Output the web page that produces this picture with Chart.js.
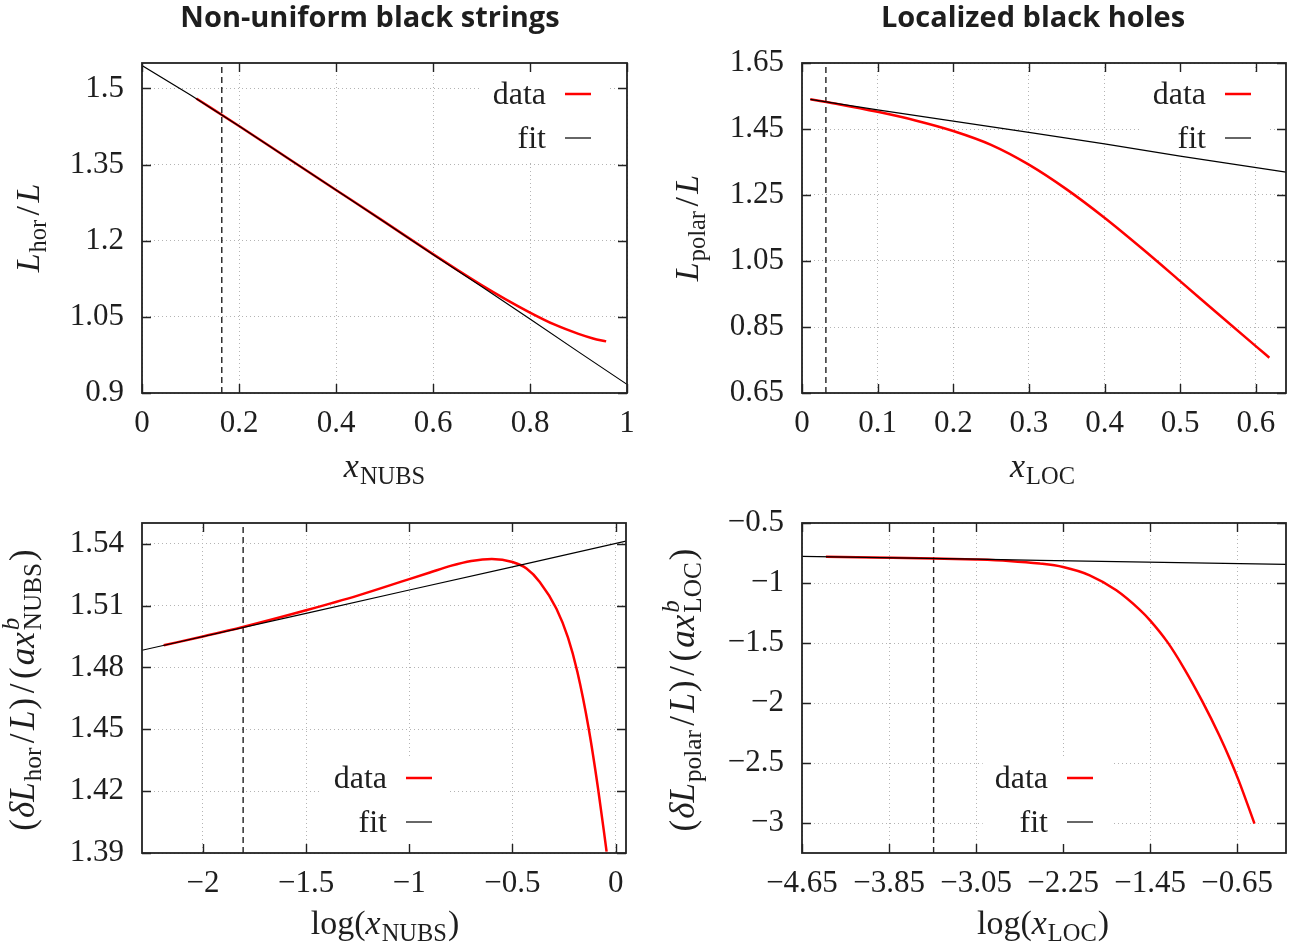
<!DOCTYPE html>
<html>
<head>
<meta charset="utf-8">
<script src="https://cdn.jsdelivr.net/npm/chart.js@4.4.1/dist/chart.umd.min.js"></script>
<style>
html,body{margin:0;padding:0;background:#fff;}
#wrap{position:relative;width:1302px;height:949px;overflow:hidden;}
#wrap canvas{position:absolute;left:0;top:0;}
</style>
</head>
<body>
<div id="wrap">
<canvas id="c1" width="1302" height="949"></canvas>
<canvas id="c2" width="1302" height="949"></canvas>
<canvas id="c3" width="1302" height="949"></canvas>
<canvas id="c4" width="1302" height="949"></canvas>
</div>
<script>
// ---------- Data ----------
// Panel 1: Non-uniform black strings, L_hor/L vs x_NUBS
const nubsFitX  = [0, 0.1, 0.2, 0.3, 0.4, 0.5, 0.6, 0.7, 0.8, 0.9, 1.0];
const nubsFitY  = [1.545, 1.487, 1.426, 1.363, 1.300, 1.237, 1.173, 1.110, 1.046, 0.981, 0.917];
const nubsDataX = [0.112, 0.2, 0.3, 0.4, 0.5, 0.6, 0.65, 0.7, 0.75, 0.8, 0.85, 0.9, 0.93, 0.957];
const nubsDataY = [1.480, 1.426, 1.363, 1.300, 1.237, 1.1735, 1.1425, 1.1125, 1.0845, 1.0585, 1.035, 1.0165, 1.0075, 1.0017];
const nubsCut = 0.1645;
const nubsXTicks = [0, 0.2, 0.4, 0.6, 0.8, 1];
const nubsYTicks = [0.9, 1.05, 1.2, 1.35, 1.5];

// Panel 2: Localized black holes, L_polar/L vs x_LOC
const locFitX  = [0.011, 0.1, 0.2, 0.3, 0.4, 0.5, 0.64];
const locFitY  = [1.540, 1.508, 1.474, 1.440, 1.405, 1.368, 1.319];
const locDataX = [0.011, 0.05, 0.1, 0.15, 0.2, 0.25, 0.3, 0.35, 0.4, 0.45, 0.5, 0.55, 0.6, 0.618];
const locDataY = [1.540, 1.5245, 1.502, 1.476, 1.444, 1.402, 1.342, 1.267, 1.181, 1.087, 0.989, 0.890, 0.792, 0.757];
const locCut = 0.0316;
const locXTicks = [0, 0.1, 0.2, 0.3, 0.4, 0.5, 0.6];
const locYTicks = [0.65, 0.85, 1.05, 1.25, 1.45, 1.65];

// Panel 3: (dL_hor/L)/(a x^b) vs log(x_NUBS)
const nubsLogFitX  = [-2.295, -1.5, -1.0, -0.5, 0.05];
const nubsLogFitY  = [1.4883, 1.5062, 1.5175, 1.5287, 1.5412];
const nubsLogDataX = [-2.19, -2.0, -1.806, -1.5, -1.25, -1.0, -0.9, -0.8, -0.7, -0.6, -0.5, -0.432, -0.368, -0.287, -0.231, -0.186, -0.131, -0.085, -0.044];
const nubsLogDataY = [1.4907, 1.4950, 1.4996, 1.5077, 1.5148, 1.5228, 1.5260, 1.5292, 1.5316, 1.5326, 1.5311, 1.5279, 1.5214, 1.5084, 1.4944, 1.4780, 1.4505, 1.4210, 1.3907];
const nubsLogCut = -1.805;
const nubsLogXTicks = [-2, -1.5, -1, -0.5, 0];
const nubsLogYTicks = [1.39, 1.42, 1.45, 1.48, 1.51, 1.54];

// Panel 4: (dL_polar/L)/(a x^b) vs log(x_LOC)
const locLogFitX  = [-4.65, -3.05, -2.464, -0.2];
const locLogFitY  = [-0.778, -0.801, -0.811, -0.844];
const locLogDataX = [-4.43, -4.0, -3.44, -3.05, -2.75, -2.464, -2.25, -2.005, -1.76, -1.546, -1.45, -1.288, -1.135, -0.973, -0.814, -0.707, -0.631, -0.49];
const locLogDataY = [-0.781, -0.787, -0.795, -0.804, -0.816, -0.838, -0.867, -0.936, -1.061, -1.222, -1.311, -1.495, -1.715, -1.980, -2.268, -2.485, -2.655, -3.005];
const locLogCut = -3.44;
const locLogXTicks = [-4.65, -3.85, -3.05, -2.25, -1.45, -0.65];
const locLogYTicks = [-3, -2.5, -2, -1.5, -1, -0.5];

const seriesNames = ['data', 'fit'];
const titles = ['Non-uniform black strings', 'Localized black holes'];

// ---------- Helpers ----------
const W = 1302, H = 949;
const SERIF = '"Liberation Serif", "DejaVu Serif", serif';
const TXT = '#1e1e1e';
const FS = 31;      // tick labels
const LFS = 32;     // legend
const MFS = 34;     // axis titles

function zip(xs, ys) { return xs.map((x, i) => ({x: x, y: ys[i]})); }
function fmt(v) { return String(v).replace('-', '\u2212'); }
function fontFor(it, s) { return (it ? 'italic ' : '') + s + 'px ' + SERIF; }

function drawMath(ctx, segs, x, y, size, rotate) {
  ctx.save();
  ctx.translate(x, y);
  if (rotate) ctx.rotate(-Math.PI / 2);
  const parts = [];
  let total = 0;
  const ss = 0.72;
  for (const s of segs) {
    let w = 0;
    const pad = (s.pad || 0) * size;
    if (s.t !== undefined) {
      ctx.font = fontFor(s.it, size);
      w = ctx.measureText(s.t).width;
    } else {
      let ws = 0, wp = 0;
      if (s.sub) { ctx.font = fontFor(false, size * ss); ws = ctx.measureText(s.sub).width; }
      if (s.sup) { ctx.font = fontFor(true, size * ss); wp = ctx.measureText(s.sup).width; }
      w = Math.max(ws, wp) + 2;
    }
    parts.push({s: s, w: w, pad: pad});
    total += w + 2 * pad;
  }
  let cx = -total / 2;
  ctx.fillStyle = TXT;
  ctx.textAlign = 'left';
  ctx.textBaseline = 'alphabetic';
  for (const p of parts) {
    const s = p.s;
    cx += p.pad;
    if (s.t !== undefined) {
      ctx.font = fontFor(s.it, size);
      ctx.fillText(s.t, cx, 0);
    } else {
      if (s.sub) { ctx.font = fontFor(false, size * ss); ctx.fillText(s.sub, cx + 1, size * 0.2); }
      if (s.sup) { ctx.font = fontFor(true, size * ss); ctx.fillText(s.sup, cx + 1, -size * 0.42); }
    }
    cx += p.w + p.pad;
  }
  ctx.restore();
}

function decor(cfg) {
  return {
    id: 'decor_' + cfg.id,
    beforeDatasetsDraw(chart) {
      const ctx = chart.ctx, lg = cfg.legend;
      ctx.save();
      ctx.font = LFS + 'px ' + SERIF;
      const tw = Math.max(ctx.measureText(seriesNames[0]).width, ctx.measureText(seriesNames[1]).width);
      const textRight = lg.sampleRight - lg.sampleLen - lg.gap;
      ctx.fillStyle = '#ffffff';
      ctx.fillRect(textRight - tw - 12, lg.y1 - 22, tw + 12 + lg.gap + lg.sampleLen + 18, lg.y2 - lg.y1 + 44);
      ctx.restore();
    },
    afterDatasetsDraw(chart) {
      const ctx = chart.ctx, a = chart.chartArea, xs = chart.scales.x, ys = chart.scales.y, lg = cfg.legend;
      ctx.save();
      const textRight = lg.sampleRight - lg.sampleLen - lg.gap;
      const rows = [{name: seriesNames[0], ds: chart.data.datasets[1], y: lg.y1}, {name: seriesNames[1], ds: chart.data.datasets[0], y: lg.y2}];
      ctx.font = LFS + 'px ' + SERIF;
      ctx.textAlign = 'right';
      ctx.textBaseline = 'alphabetic';
      for (const r of rows) {
        ctx.fillStyle = TXT;
        ctx.fillText(r.name, textRight, r.y + 10);
        ctx.strokeStyle = r.ds.borderColor;
        ctx.lineWidth = r.ds.borderWidth;
        ctx.beginPath();
        ctx.moveTo(lg.sampleRight - lg.sampleLen, r.y);
        ctx.lineTo(lg.sampleRight, r.y);
        ctx.stroke();
      }
      // inward ticks on all four sides
      ctx.strokeStyle = '#222';
      ctx.lineWidth = 1.4;
      ctx.beginPath();
      for (const v of cfg.xTicks) {
        const px = Math.round(xs.getPixelForValue(v)) + 0.5;
        ctx.moveTo(px, a.bottom); ctx.lineTo(px, a.bottom - 9);
        ctx.moveTo(px, a.top); ctx.lineTo(px, a.top + 9);
      }
      for (const v of cfg.yTicks) {
        const py = Math.round(ys.getPixelForValue(v)) + 0.5;
        ctx.moveTo(a.left, py); ctx.lineTo(a.left + 9, py);
        ctx.moveTo(a.right, py); ctx.lineTo(a.right - 9, py);
      }
      ctx.stroke();
      // frame
      ctx.lineWidth = 1.8;
      ctx.strokeRect(a.left, a.top, a.right - a.left, a.bottom - a.top);
      ctx.restore();
    },
    afterDraw(chart) {
      const ctx = chart.ctx;
      ctx.save();
      if (cfg.title) {
        ctx.font = 'bold 29px "Open Sans", "Liberation Sans", sans-serif';
        ctx.fillStyle = TXT;
        ctx.textAlign = 'center';
        ctx.textBaseline = 'alphabetic';
        ctx.fillText(cfg.title.text, cfg.title.x, cfg.title.y);
      }
      drawMath(ctx, cfg.xLabel.segs, cfg.xLabel.x, cfg.xLabel.y, MFS, false);
      drawMath(ctx, cfg.yLabel.segs, cfg.yLabel.x, cfg.yLabel.y, cfg.yLabel.size || MFS, true);
      ctx.restore();
    }
  };
}

function makeChart(cfg) {
  const tickFont = {family: SERIF, size: FS, lineHeight: 1};
  return new Chart(document.getElementById(cfg.id), {
    type: 'line',
    data: {
      datasets: [
        {label: seriesNames[1], data: zip(cfg.fitX, cfg.fitY), borderColor: '#000000', borderWidth: 1.2,
         pointRadius: 0, order: 0, tension: 0, fill: false},
        {label: seriesNames[0], data: zip(cfg.dataX, cfg.dataY), borderColor: '#ff0000', borderWidth: 2.5,
         pointRadius: 0, order: 1, cubicInterpolationMode: 'monotone', fill: false},
        {label: 'cut', data: [{x: cfg.cut, y: cfg.yMin}, {x: cfg.cut, y: cfg.yMax}], borderColor: '#222222',
         borderWidth: 1.4, borderDash: [6, 4], pointRadius: 0, order: 2, fill: false}
      ]
    },
    options: {
      responsive: false,
      animation: false,
      devicePixelRatio: 1,
      events: [],
      layout: {padding: {left: cfg.padL, top: cfg.T, right: W - cfg.R, bottom: H - cfg.B - 60}},
      plugins: {legend: {display: false}, tooltip: {enabled: false}, title: {display: false}},
      scales: {
        x: {
          type: 'linear', min: cfg.xMin, max: cfg.xMax,
          afterBuildTicks: (s) => { s.ticks = cfg.xTicks.map(v => ({value: v})); },
          afterFit: (s) => { s.height = 60; },
          grid: {color: '#b4b4b4', lineWidth: 1, drawTicks: false},
          border: {display: false, dash: [1, 3]},
          ticks: {padding: 15, font: tickFont, color: TXT, maxRotation: 0, autoSkip: false, callback: (v) => fmt(v)}
        },
        y: {
          type: 'linear', min: cfg.yMin, max: cfg.yMax,
          afterBuildTicks: (s) => { s.ticks = cfg.yTicks.map(v => ({value: v})); },
          afterFit: (s) => { s.width = cfg.L - cfg.padL; },
          grid: {color: '#b4b4b4', lineWidth: 1, drawTicks: false},
          border: {display: false, dash: [1, 3]},
          ticks: {padding: 18, font: tickFont, color: TXT, autoSkip: false, callback: (v) => fmt(v)}
        }
      }
    },
    plugins: [decor(cfg)]
  });
}

const sub = (t) => ({sub: t});
const SL = {t: '/', pad: 0.1};

makeChart({
  id: 'c1', padL: 0, L: 142, R: 627, T: 63, B: 393,
  xMin: 0, xMax: 1, yMin: 0.9, yMax: 1.55,
  xTicks: nubsXTicks, yTicks: nubsYTicks,
  fitX: nubsFitX, fitY: nubsFitY, dataX: nubsDataX, dataY: nubsDataY, cut: nubsCut,
  legend: {sampleRight: 591, sampleLen: 26, gap: 19, y1: 94, y2: 138},
  title: {text: titles[0], x: 370, y: 27},
  xLabel: {segs: [{t: 'x', it: true}, sub('NUBS')], x: 385, y: 477},
  yLabel: {segs: [{t: 'L', it: true}, sub('hor'), SL, {t: 'L', it: true}], x: 39, y: 228}
});

makeChart({
  id: 'c2', padL: 651, L: 802, R: 1286, T: 63, B: 393,
  xMin: 0, xMax: 0.64, yMin: 0.65, yMax: 1.65,
  xTicks: locXTicks, yTicks: locYTicks,
  fitX: locFitX, fitY: locFitY, dataX: locDataX, dataY: locDataY, cut: locCut,
  legend: {sampleRight: 1251, sampleLen: 26, gap: 19, y1: 94, y2: 138},
  title: {text: titles[1], x: 1033, y: 27},
  xLabel: {segs: [{t: 'x', it: true}, sub('LOC')], x: 1043, y: 477},
  yLabel: {segs: [{t: 'L', it: true}, sub('polar'), SL, {t: 'L', it: true}], x: 698, y: 228}
});

makeChart({
  id: 'c3', padL: 0, L: 142, R: 626, T: 523, B: 853,
  xMin: -2.295, xMax: 0.05, yMin: 1.39, yMax: 1.55,
  xTicks: nubsLogXTicks, yTicks: nubsLogYTicks,
  fitX: nubsLogFitX, fitY: nubsLogFitY, dataX: nubsLogDataX, dataY: nubsLogDataY, cut: nubsLogCut,
  legend: {sampleRight: 432, sampleLen: 26, gap: 19, y1: 778, y2: 822},
  title: null,
  xLabel: {segs: [{t: 'log('}, {t: 'x', it: true}, sub('NUBS'), {t: ')'}], x: 385, y: 934},
  yLabel: {size: 35, segs: [{t: '(', pad: 0.03}, {t: '\u03B4L', it: true}, sub('hor'), SL, {t: 'L', it: true}, {t: ')', pad: 0.03}, SL, {t: '(', pad: 0.03},
                  {t: 'ax', it: true, pad: 0.03}, {sup: 'b', sub: 'NUBS'}, {t: ')', pad: 0.03}], x: 34, y: 690}
});

makeChart({
  id: 'c4', padL: 651, L: 802, R: 1286, T: 523, B: 853,
  xMin: -4.65, xMax: -0.2, yMin: -3.25, yMax: -0.5,
  xTicks: locLogXTicks, yTicks: locLogYTicks,
  fitX: locLogFitX, fitY: locLogFitY, dataX: locLogDataX, dataY: locLogDataY, cut: locLogCut,
  legend: {sampleRight: 1093, sampleLen: 26, gap: 19, y1: 778, y2: 822},
  title: null,
  xLabel: {segs: [{t: 'log('}, {t: 'x', it: true}, sub('LOC'), {t: ')'}], x: 1043, y: 934},
  yLabel: {size: 35, segs: [{t: '(', pad: 0.03}, {t: '\u03B4L', it: true}, sub('polar'), SL, {t: 'L', it: true}, {t: ')', pad: 0.03}, SL, {t: '(', pad: 0.03},
                  {t: 'ax', it: true, pad: 0.03}, {sup: 'b', sub: 'LOC'}, {t: ')', pad: 0.03}], x: 694, y: 690}
});
</script>
</body>
</html>
